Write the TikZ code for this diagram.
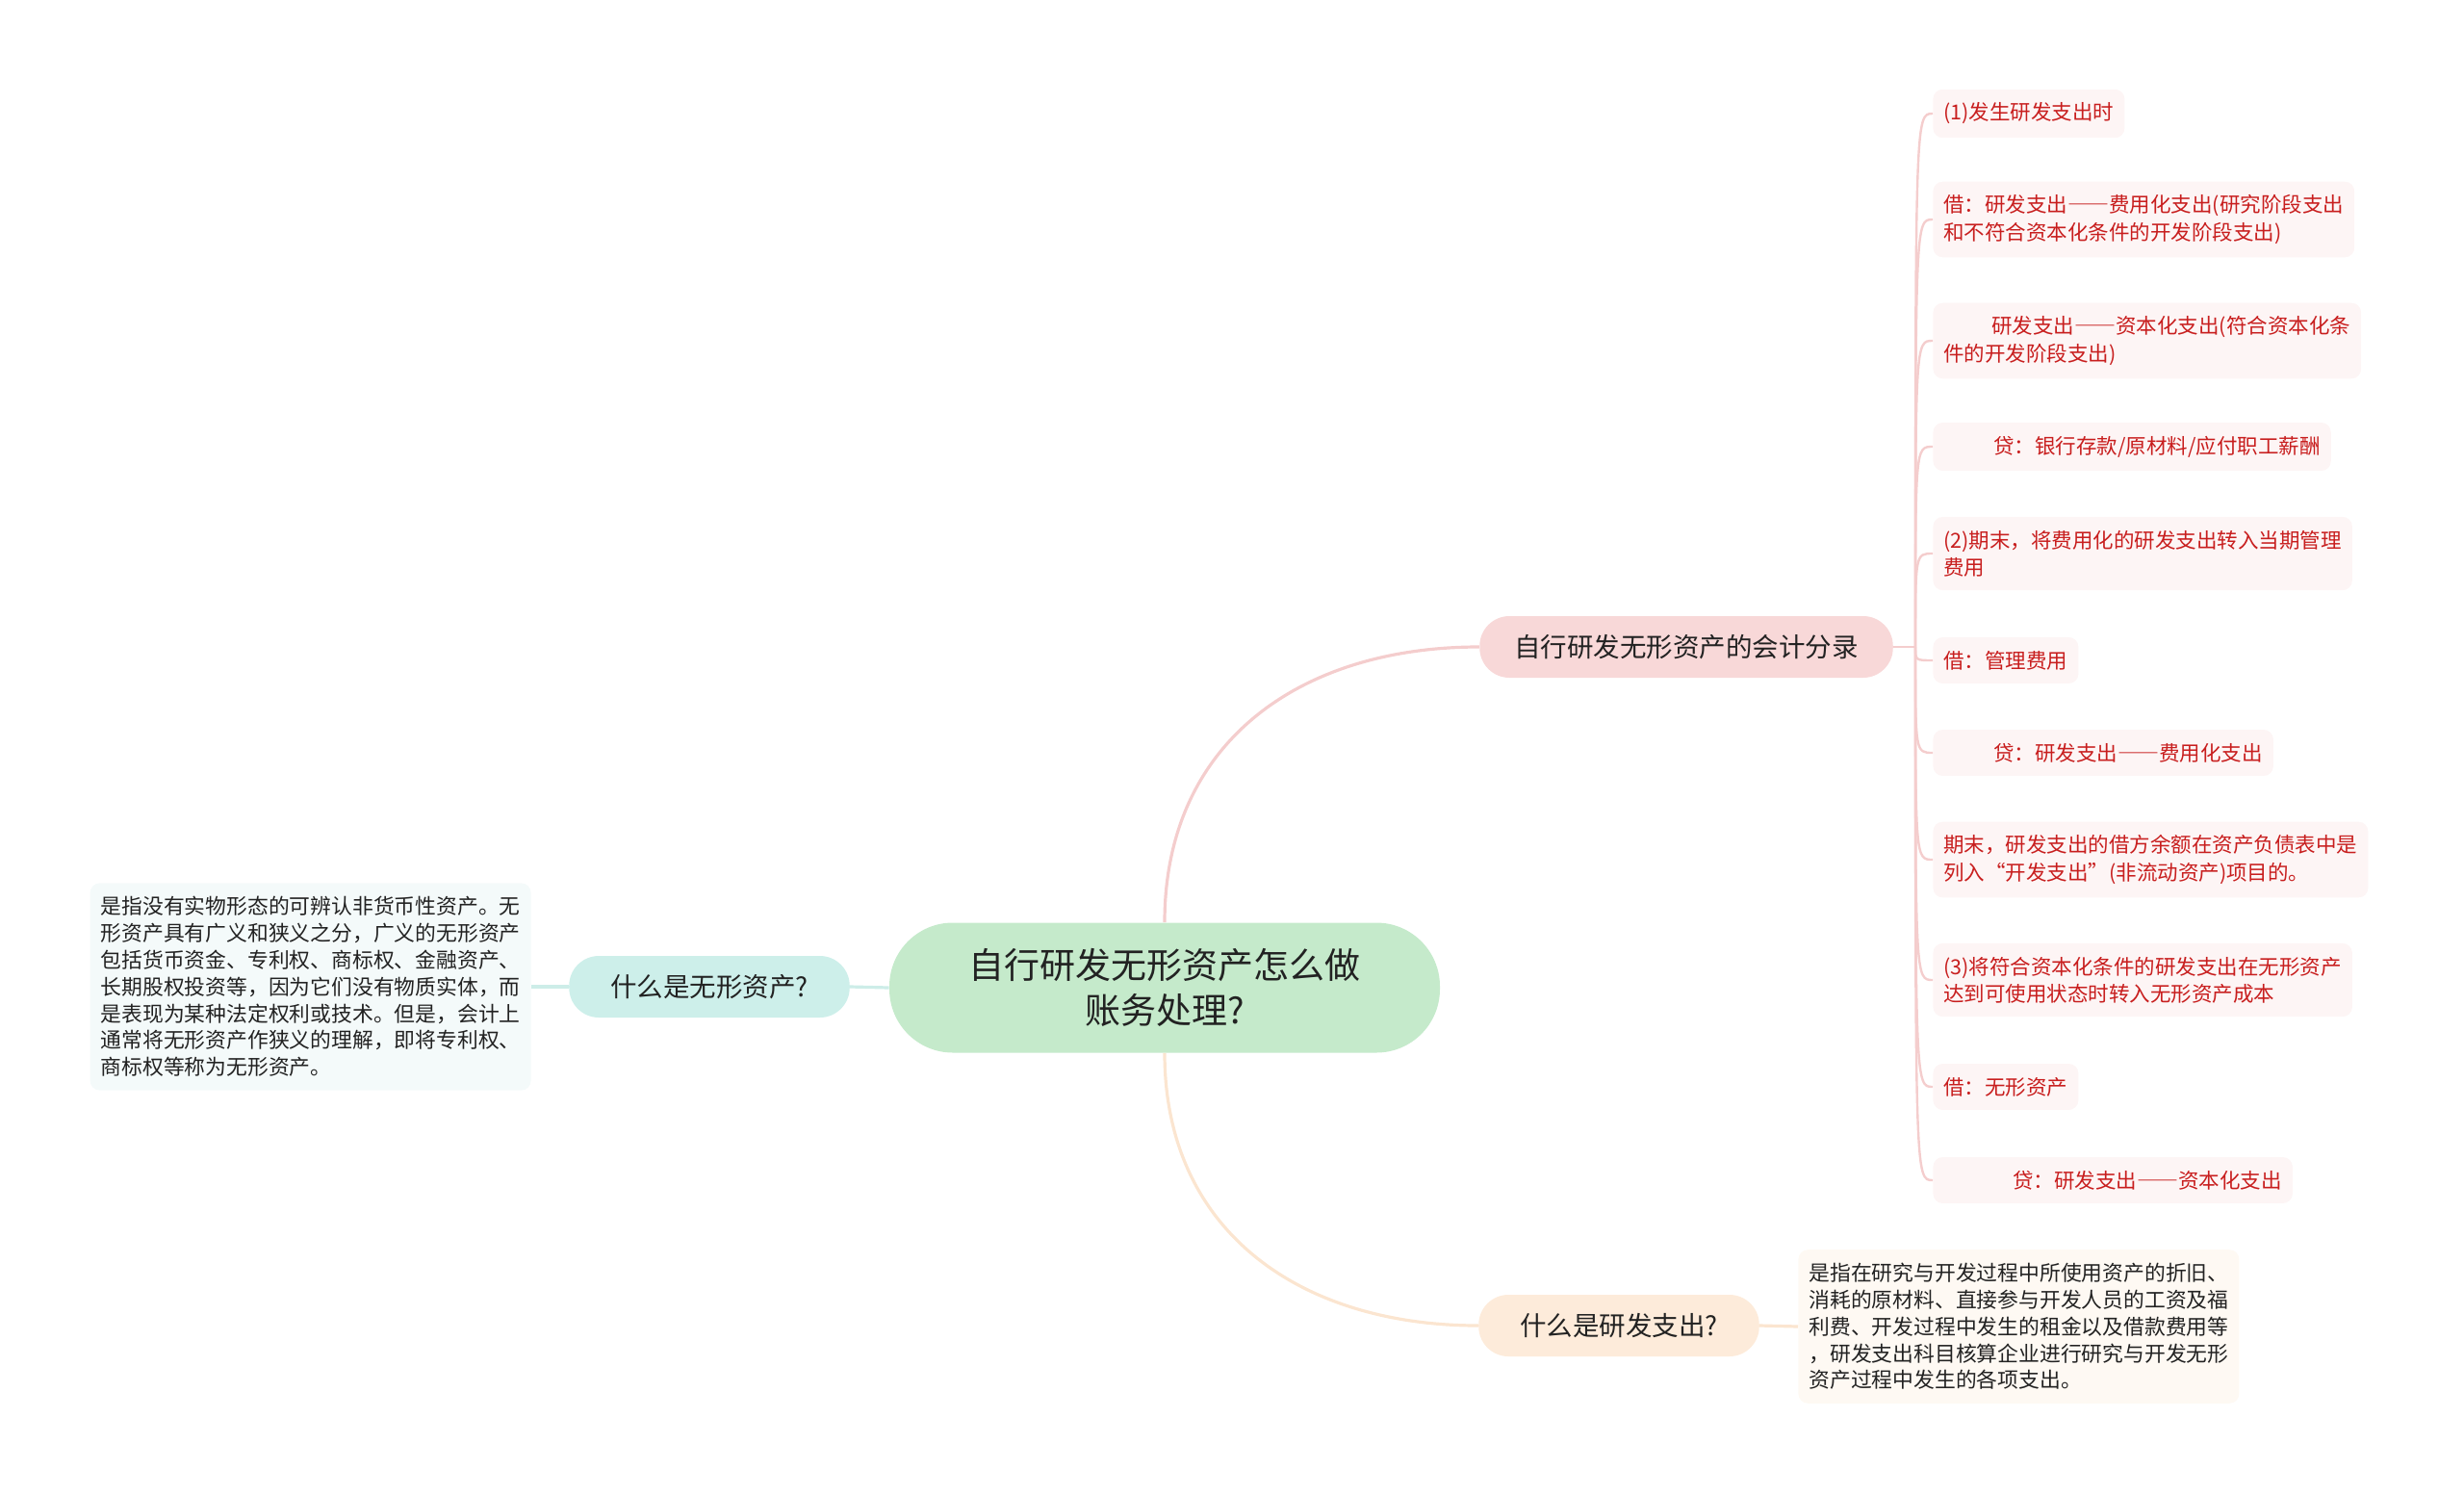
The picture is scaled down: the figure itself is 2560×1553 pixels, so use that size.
\documentclass[tikz,border=0pt]{standalone}
\usepackage{fontspec}
\setmainfont{Noto Sans CJK SC}
\newcommand{\twodash}{{\addfontfeature{CharacterWidth=Full}——}}

\definecolor{rootgreen}{HTML}{C5EACB}
\definecolor{pinkfill}{HTML}{F8D8D8}
\definecolor{peachfill}{HTML}{FDEBDA}
\definecolor{tealfill}{HTML}{CDEFEA}
\definecolor{leafpink}{HTML}{FDF5F5}
\definecolor{leafteal}{HTML}{F4FAFA}
\definecolor{leafpeach}{HTML}{FEF9F3}
\definecolor{redtext}{HTML}{C81E1E}
\definecolor{darktext}{HTML}{222222}
\definecolor{pinkline}{HTML}{F4CDCD}
\definecolor{peachline}{HTML}{FBE5D0}
\definecolor{tealline}{HTML}{CDEDE8}

\begin{document}
\begin{tikzpicture}[x=0.5pt, y=0.5pt,
  root/.style={fill=rootgreen, rounded corners=33pt, minimum width=286pt,
    minimum height=67.5pt, align=center, text=darktext,
    font=\fontsize{18.5pt}{23.5pt}\selectfont},
  topic/.style={rounded corners=15.5pt, minimum height=32pt, inner xsep=18pt,
    text=darktext, font=\fontsize{13.75pt}{16pt}\selectfont},
  query/.style={topic, inner xsep=21.5pt},
  entry/.style={fill=leafpink, rounded corners=5pt, inner xsep=5.5pt, inner ysep=7pt,
    align=left, anchor=west, text=redtext,
    font=\fontsize{10.75pt}{14.1pt}\selectfont},
  note/.style={rounded corners=5pt, inner xsep=5.5pt, inner ysep=7pt,
    align=left, text=darktext, font=\fontsize{10.9pt}{13.9pt}\selectfont},
  link/.style={line width=1.6pt},
  twig/.style={line width=1.2pt, pinkline}]
  \useasboundingbox (0,0) rectangle (2560,-1553);

  % Centre
  \node[root] (root) at (1210,-1026) {自行研发无形资产怎么做\\账务处理?};

  % Main branches
  \node[topic, fill=pinkfill]  (rec)   at (1752,-672)  {自行研发无形资产的会计分录};
  \node[query, fill=peachfill] (rnd)   at (1682,-1377) {什么是研发支出?};
  \node[query, fill=tealfill]  (asset) at (737,-1025)  {什么是无形资产?};

  % Journal entries
  \node[entry] (e1)  at (2008,-118)  {(1)发生研发支出时};
  \node[entry] (e2)  at (2008,-228)  {借：研发支出\twodash 费用化支出(研究阶段支出\\和不符合资本化条件的开发阶段支出)};
  \node[entry] (e3)  at (2008,-354)  {\hspace*{25pt}研发支出\twodash 资本化支出(符合资本化条\\件的开发阶段支出)};
  \node[entry] (e4)  at (2008,-464)  {\hspace*{26pt}贷：银行存款/原材料/应付职工薪酬};
  \node[entry] (e5)  at (2008,-575)  {(2)期末，将费用化的研发支出转入当期管理\\费用};
  \node[entry] (e6)  at (2008,-686)  {借：管理费用};
  \node[entry] (e7)  at (2008,-782)  {\hspace*{26pt}贷：研发支出\twodash 费用化支出};
  \node[entry] (e8)  at (2008,-893)  {期末，研发支出的借方余额在资产负债表中是\\列入“开发支出”(非流动资产)项目的。};
  \node[entry] (e9)  at (2008,-1018) {(3)将符合资本化条件的研发支出在无形资产\\达到可使用状态时转入无形资产成本};
  \node[entry] (e10) at (2008,-1129) {借：无形资产};
  \node[entry] (e11) at (2008,-1226) {\hspace*{36pt}贷：研发支出\twodash 资本化支出};

  % Explanations
  \node[note, fill=leafteal, anchor=east] (assetnote) at (552,-1025)
    {是指没有实物形态的可辨认非货币性资产。无\\形资产具有广义和狭义之分，广义的无形资产\\包括货币资金、专利权、商标权、金融资产、\\长期股权投资等，因为它们没有物质实体，而\\是表现为某种法定权利或技术。但是，会计上\\通常将无形资产作狭义的理解，即将专利权、\\商标权等称为无形资产。};
  \node[note, fill=leafpeach, anchor=west] (rndnote) at (1868,-1378)
    {是指在研究与开发过程中所使用资产的折旧、\\消耗的原材料、直接参与开发人员的工资及福\\利费、开发过程中发生的租金以及借款费用等\\，研发支出科目核算企业进行研究与开发无形\\资产过程中发生的各项支出。};

  % Connectors
  \draw[link, pinkline] (root.north) to[out=90, in=180, looseness=1.1] (rec.west);
  \draw[link, peachline] (root.south) to[out=-90, in=180, looseness=1.1] (rnd.west);
  \draw[link, tealline] (root.west) -- (asset.east);
  \draw[link, tealline] (asset.west) -- (assetnote.east);
  \draw[link, peachline] (rnd.east) -- (rndnote.west);

  \coordinate (hub) at (1990,-672);
  \draw[twig] (rec.east) -- (hub);
  \foreach \n in {e1,e2,e3,e4,e5,e6,e7,e8,e9,e10,e11}
    \draw[twig] (hub) .. controls (hub |- \n.west) .. (\n.west);
\end{tikzpicture}
\end{document}
